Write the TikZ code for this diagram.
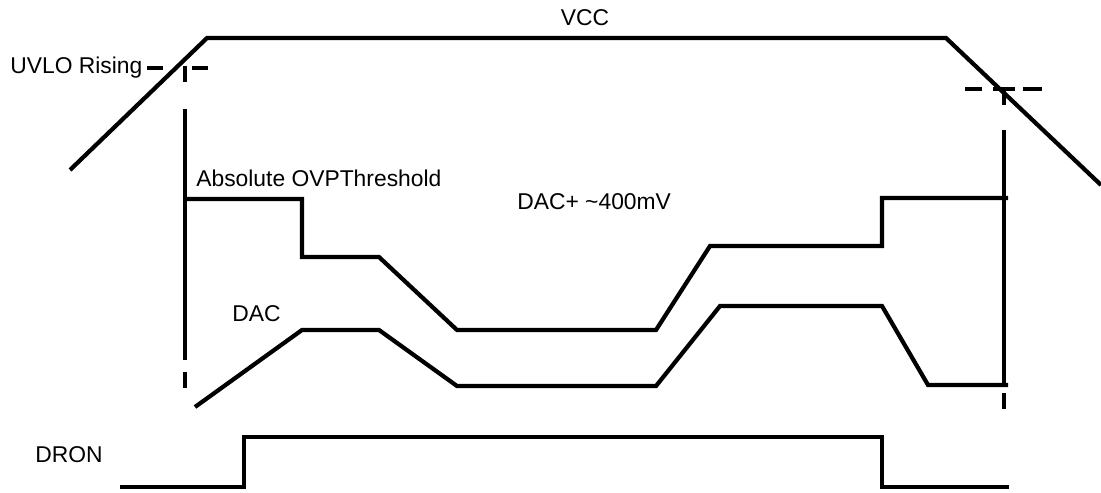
\documentclass[tikz,border=0pt]{standalone}
\usepackage{fontspec}
\setmainfont{Liberation Sans}
\begin{document}
\begin{tikzpicture}[x=0.02cm, y=-0.02cm,
  every node/.style={font=\fontsize{13}{15}\selectfont, inner sep=0pt},
  sig/.style={line width=2.4pt, line join=miter},
  mrk/.style={line width=2.4pt}]
\useasboundingbox (0,0) rectangle (1101,493);
% VCC
\draw[sig] (70,170) -- (207,38) -- (946,38) -- (1101,185);
\node[anchor=base] (vcc) at (585,26) {VCC};
% UVLO rising marker
\node[anchor=base west] (uvlo) at (10,74) {UVLO Rising};
\foreach \xa/\xb in {147/163,192/208} {\draw[mrk] (\xa,68) -- (\xb,68);}
\draw[mrk] (185,66) -- (185,82);
\draw[mrk] (185,109) -- (185,360);
\draw[mrk] (185,372) -- (185,388);
% UVLO falling marker
\foreach \xa/\xb in {965/982,993/1015,1023/1042} {\draw[mrk] (\xa,89) -- (\xb,89);}
\draw[mrk] (1004,89) -- (1004,105);
\draw[mrk] (1004,130) -- (1004,383);
\draw[mrk] (1004,393) -- (1004,409);
% OVP threshold
\node[anchor=base west] (ovp) at (196,187) {Absolute OVPThreshold};
\node[anchor=base west] (ofs) at (517,210) {DAC+ \textasciitilde400mV};
\draw[sig] (183,199) -- (302,199) -- (302,257) -- (379,257) -- (457,330) -- (656,330)
  -- (710,246) -- (882,246) -- (882,198) -- (1008,198);
% DAC
\node[anchor=base west] (dac) at (232,321) {DAC};
\draw[sig] (195,407) -- (302,330) -- (379,330) -- (457,386) -- (656,386) -- (720,306)
  -- (882,306) -- (928,385) -- (1008,385);
% DRON
\node[anchor=base west] (dron) at (35,462) {DRON};
\draw[sig] (120,487) -- (244,487) -- (244,437) -- (882,437) -- (882,487) -- (1009,487);
\end{tikzpicture}
\end{document}
